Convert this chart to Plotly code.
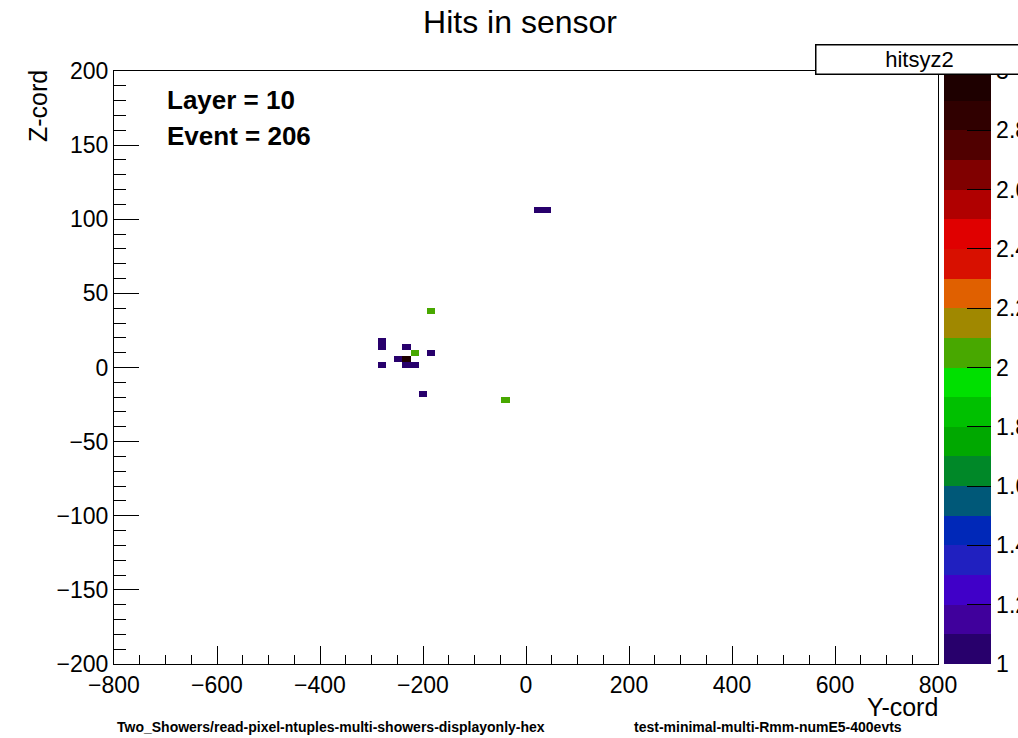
import numpy as np
import plotly.graph_objects as go

# ---- data (hit bin centres and counts) ----
hit_y = [24, 40, -184, -280, -280, -232, -216, -184, -248, -232, -280, -232, -216, -200, -40]
hit_z = [106, 106, 38, 14, 18, 14, 10, 10, 6, 6, 2, 2, 2, -18, -22]
hit_n = [1, 1, 2, 1, 1, 1, 2, 1, 1, 3, 1, 1, 1, 1, 2]

x_ticks = [-800, -600, -400, -200, 0, 200, 400, 600, 800]
y_ticks = [-200, -150, -100, -50, 0, 50, 100, 150, 200]
cbar_ticks = [1, 1.2, 1.4, 1.6, 1.8, 2, 2.2, 2.4, 2.6, 2.8, 3]

palette = ["#28006c", "#40009c", "#4000c8", "#2020c0", "#0028b8",
           "#005878", "#008828", "#00a800", "#00c000", "#00e000",
           "#48a800", "#a08800", "#e06000", "#d81000", "#e00000",
           "#b00000", "#800000", "#500000", "#300000", "#1e0000"]

# ---- histogram grid ----
nbx, nby = 100, 100
xmin, xmax, ymin, ymax = -800, 800, -200, 200
dx = (xmax - xmin) / nbx
dy = (ymax - ymin) / nby
grid = np.full((nby, nbx), np.nan)
for yy, zz, nn in zip(hit_y, hit_z, hit_n):
    i = int((yy - xmin) // dx)
    j = int((zz - ymin) // dy)
    grid[j, i] = nn

cs = []
n = len(palette)
for k, c in enumerate(palette):
    cs.append([k / n, c])
    cs.append([(k + 1) / n, c])

W, H = 1018, 738
L, R, T, B = 114, 938, 71, 664

def px(xp):
    return (xp - L) / (R - L)

def py(yp):
    return (B - yp) / (B - T)

FONT = "Liberation Sans, Arial, Helvetica, sans-serif"

fig = go.Figure()
fig.add_trace(go.Heatmap(
    z=grid, x0=xmin + dx / 2, dx=dx, y0=ymin + dy / 2, dy=dy,
    zmin=1, zmax=3, colorscale=cs, zsmooth=False, hoverongaps=False,
    colorbar=dict(
        x=px(944), xanchor="left", xpad=0, y=0, yanchor="bottom", ypad=0,
        len=1, lenmode="fraction", thickness=47, thicknessmode="pixels",
        outlinewidth=0, ticks="inside", ticklen=24, tickcolor="black", tickwidth=1,
        tickvals=cbar_ticks, ticktext=[f"{v:g}" for v in cbar_ticks],
        tickfont=dict(family=FONT, size=23, color="black"),
    ),
))

fig.update_layout(
    width=W, height=H,
    margin=dict(l=L, r=W - R, t=T, b=H - B, pad=0, autoexpand=False),
    paper_bgcolor="white", plot_bgcolor="white",
    showlegend=False,
    title=dict(text="Hits in sensor", x=520 / W, xanchor="center",
               y=1 - 22 / H, yanchor="middle",
               font=dict(family=FONT, size=32, color="black")),
    xaxis=dict(range=[xmin, xmax], tickvals=x_ticks, ticks="inside", ticklen=18,
               tickcolor="black", tickwidth=1,
               minor=dict(ticks="inside", ticklen=9, dtick=50, tick0=0,
                          tickcolor="black", tickwidth=1, showgrid=False),
               showline=True, mirror=True, linecolor="black", linewidth=1,
               showgrid=False, zeroline=False,
               tickfont=dict(family=FONT, size=23, color="black")),
    yaxis=dict(range=[ymin, ymax], tickvals=y_ticks, ticks="inside", ticklen=25,
               tickcolor="black", tickwidth=1,
               minor=dict(ticks="inside", ticklen=12, dtick=10, tick0=0,
                          tickcolor="black", tickwidth=1, showgrid=False),
               showline=True, mirror=True, linecolor="black", linewidth=1,
               showgrid=False, zeroline=False,
               tickfont=dict(family=FONT, size=23, color="black")),
)

ann = []
ann.append(dict(text="Y-cord", x=px(940), y=py(707), xref="paper", yref="paper",
                xanchor="right", yanchor="middle", showarrow=False,
                font=dict(family=FONT, size=25, color="black")))
ann.append(dict(text="Z-cord", x=px(38), y=py(68), xref="paper", yref="paper",
                xanchor="center", yanchor="top", textangle=-90, showarrow=False,
                font=dict(family=FONT, size=25, color="black")))
ann.append(dict(text="<b>Layer = 10</b>", x=px(165), y=py(100), xref="paper", yref="paper",
                xanchor="left", yanchor="middle", showarrow=False,
                font=dict(family=FONT, size=26, color="black")))
ann.append(dict(text="<b>Event = 206</b>", x=px(165), y=py(136), xref="paper", yref="paper",
                xanchor="left", yanchor="middle", showarrow=False,
                font=dict(family=FONT, size=26, color="black")))
ann.append(dict(text="<b>Two_Showers/read-pixel-ntuples-multi-showers-displayonly-hex</b>",
                x=px(115), y=py(727), xref="paper", yref="paper",
                xanchor="left", yanchor="middle", showarrow=False,
                font=dict(family=FONT, size=14, color="black")))
ann.append(dict(text="<b>test-minimal-multi-Rmm-numE5-400evts</b>",
                x=px(632), y=py(727), xref="paper", yref="paper",
                xanchor="left", yanchor="middle", showarrow=False,
                font=dict(family=FONT, size=14, color="black")))
ann.append(dict(text="hitsyz2", x=px(815), y=py(44), xref="paper", yref="paper",
                xanchor="left", yanchor="top", showarrow=False,
                width=206, height=28, align="center", valign="middle",
                bgcolor="white", bordercolor="black", borderwidth=1.5, borderpad=0,
                font=dict(family=FONT, size=22, color="black")))
fig.update_layout(annotations=ann)

fig.write_html("out.html")
